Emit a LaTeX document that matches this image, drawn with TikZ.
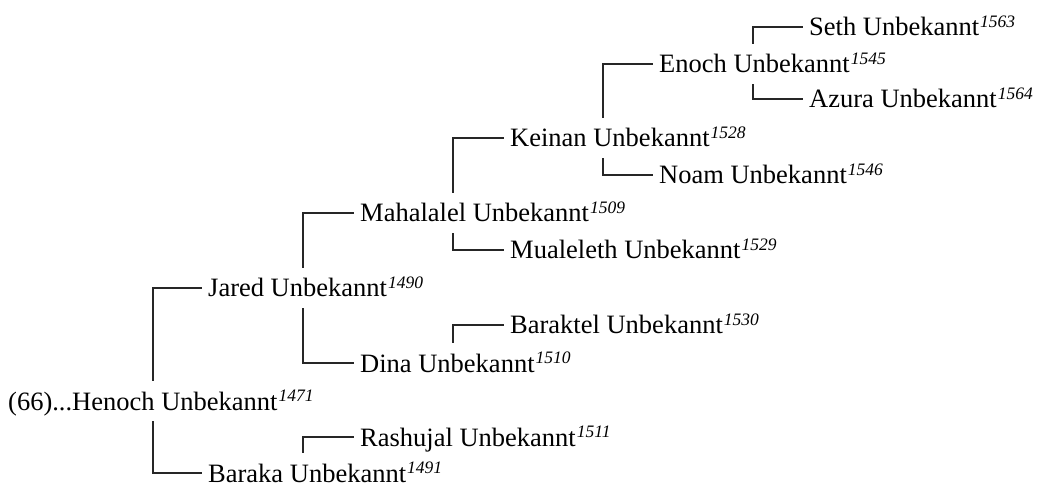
\documentclass[tikz,border=0pt]{standalone}
\usepackage{fontspec}
\setmainfont{Liberation Serif}
\newcommand\yr[1]{\kern1pt\raisebox{8.5pt}{\fontsize{17.5}{20}\selectfont\itshape #1}}
\begin{document}
\begin{tikzpicture}[x=1pt,y=-1pt,
  person/.style={anchor=west,inner xsep=6pt,inner ysep=11pt,text height=18pt,text depth=0pt,
    font=\fontsize{26.5}{30}\selectfont},
  link/.style={draw=black!85,line width=1.3pt}]
\useasboundingbox (0,0) rectangle (1039,486);
\node[person] (henoch)    at (2,401)   {(66)...Henoch Unbekannt\yr{1471}};
\node[person] (jared)     at (202,288) {Jared Unbekannt\yr{1490}};
\node[person] (baraka)    at (202,473) {Baraka Unbekannt\yr{1491}};
\node[person] (mahalalel) at (354,213) {Mahalalel Unbekannt\yr{1509}};
\node[person] (dina)      at (354,363) {Dina Unbekannt\yr{1510}};
\node[person] (rashujal)  at (354,437) {Rashujal Unbekannt\yr{1511}};
\node[person] (keinan)    at (504,138) {Keinan Unbekannt\yr{1528}};
\node[person] (mualeleth) at (504,250) {Mualeleth Unbekannt\yr{1529}};
\node[person] (baraktel)  at (504,325) {Baraktel Unbekannt\yr{1530}};
\node[person] (enoch)     at (653,64)  {Enoch Unbekannt\yr{1545}};
\node[person] (noam)      at (653,175) {Noam Unbekannt\yr{1546}};
\node[person] (seth)      at (803,27)  {Seth Unbekannt\yr{1563}};
\node[person] (azura)     at (803,99)  {Azura Unbekannt\yr{1564}};
\coordinate (k0) at (153,0);
\coordinate (k1) at (303,0);
\coordinate (k2) at (453,0);
\coordinate (k3) at (603,0);
\coordinate (k4) at (753,0);
\path[link] (henoch.north -| k0) |- (jared.west);
\path[link] (henoch.south -| k0) |- (baraka.west);
\path[link] (jared.north -| k1) |- (mahalalel.west);
\path[link] (jared.south -| k1) |- (dina.west);
\path[link] (baraka.north -| k1) |- (rashujal.west);
\path[link] (mahalalel.north -| k2) |- (keinan.west);
\path[link] (mahalalel.south -| k2) |- (mualeleth.west);
\path[link] (dina.north -| k2) |- (baraktel.west);
\path[link] (keinan.north -| k3) |- (enoch.west);
\path[link] (keinan.south -| k3) |- (noam.west);
\path[link] (enoch.north -| k4) |- (seth.west);
\path[link] (enoch.south -| k4) |- (azura.west);
\end{tikzpicture}
\end{document}
